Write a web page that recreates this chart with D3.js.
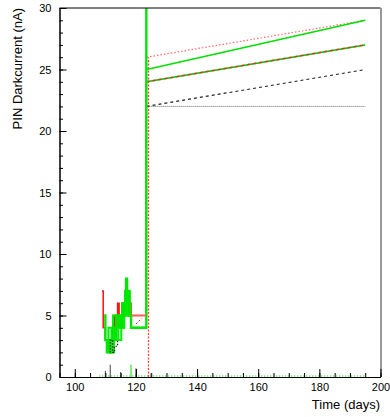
<!DOCTYPE html>
<html>
<head>
<meta charset="utf-8">
<script src="https://cdn.jsdelivr.net/npm/d3@7"></script>
<style>
  body { margin: 0; background: #fff; }
  text { font-family: "Liberation Sans", Arial, sans-serif; }
</style>
</head>
<body>
<svg id="chart" width="390" height="417"></svg>
<script>
// data
const xTicks = [100, 120, 140, 160, 180, 200];
const yTicks = [0, 5, 10, 15, 20, 25, 30];

const lowGreenA = [[109.6,5],[110,3],[110.5,2],[111,3],[111.5,2],[112,3],[112.5,4],[113,3],[113.5,5],[114,4],[114.5,5],[115,4],[115.5,6],[116,5],[116.5,7],[116.8,8],[117.1,6],[117.4,7],[117.8,5],[118.4,4],[123.4,4],[123.4,31]];
const lowGreenB = [[110.2,3],[111,4],[112,3],[112.5,5],[113.5,4],[114,5],[115,4],[116,6],[116.5,5],[117.5,7],[118,5],[118.4,5],[118.4,4],[123.4,4]];
const lowGreenC = [[111,2],[112.8,3],[113.2,4],[114.2,3],[115.2,5],[115.8,4],[116.2,6],[117,5],[117.6,6],[118.2,5]];
const lowRed = [[108.9,7],[109.3,4],[110,3],[111,3],[111.5,2],[112,3],[112.5,5],[113,4],[114,6],[114.5,5],[115.5,6],[116.5,5],[117,7],[117.5,6],[118.4,5],[123.4,5],[123.4,24]];
const lowBlack = [[111.6,2],[111.6,3],[112.4,3],[112.4,2],[113,2.5],[114,3]];
const boxDiag = [[120,4.3],[122,4.8]];

const trendStart = 123.5, trendEnd = 195;
const trends = [
  { name: "red dotted",   from: 26, to: 29, color: "#ff6a6a", dash: "1.5,2", width: 1.2 },
  { name: "green",        from: 25, to: 29, color: "#00e000", dash: null,    width: 1.5 },
  { name: "green/red",    from: 24, to: 27, color: "#00c000", dash: null,    width: 1.5 },
  { name: "green/red b",  from: 24, to: 27, color: "#d23c1e", dash: "3,3",   width: 1.5 },
  { name: "black dashed", from: 22, to: 25, color: "#222",    dash: "3,3",   width: 1.1 },
  { name: "gray dotted",  from: 22, to: 22, color: "#666",    dash: "1,1",   width: 1 }
];

const spikes = [
  { day: 110,   v: 0.5, color: "#444" },
  { day: 111.6, v: 1.0, color: "#444" },
  { day: 115,   v: 0.4, color: "#444" },
  { day: 118.4, v: 1.0, color: "#00e000" },
  { day: 120,   v: 0.7, color: "#444" },
  { day: 124.8, v: 0.3, color: "#999" }
];

const redVertical = { day: 123.9, from: 0, to: 26 };
const greenBase = { from: 108, to: 195, v: 0 };

const svg = d3.select("#chart");
const x = d3.scaleLinear().domain([95, 200]).range([59.5, 380.5]);
const y = d3.scaleLinear().domain([0, 30]).range([377, 8]);

const plot = svg.append("g");
svg.append("clipPath").attr("id", "clip")
  .append("rect").attr("x", x(95)).attr("y", y(30)).attr("width", x(200) - x(95)).attr("height", y(0) - y(30));
const data = plot.append("g").attr("clip-path", "url(#clip)");

const line = d3.line().x(d => x(d[0])).y(d => y(d[1]));
const step = d3.line().x(d => x(d[0])).y(d => y(d[1])).curve(d3.curveStepAfter);

// baseline green dotted
data.append("line")
  .attr("x1", x(greenBase.from)).attr("x2", x(greenBase.to))
  .attr("y1", y(greenBase.v) - 1).attr("y2", y(greenBase.v) - 1)
  .attr("stroke", "#00c000").attr("stroke-dasharray", "1,2");

// red dotted vertical
data.append("line")
  .attr("x1", Math.round(x(redVertical.day)) + 0.5).attr("x2", Math.round(x(redVertical.day)) + 0.5)
  .attr("y1", y(redVertical.from)).attr("y2", y(redVertical.to))
  .attr("stroke", "#ff4040").attr("stroke-width", 1.3).attr("stroke-dasharray", "2,1.5");

// spikes
data.selectAll(".spike").data(spikes).enter().append("line")
  .attr("x1", d => x(d.day)).attr("x2", d => x(d.day))
  .attr("y1", y(0)).attr("y2", d => y(d.v))
  .attr("stroke", d => d.color).attr("stroke-width", 1);

// trend lines
data.selectAll(".trend").data(trends).enter().append("path")
  .attr("d", d => line([[trendStart, d.from], [trendEnd, d.to]]))
  .attr("fill", "none")
  .attr("stroke", d => d.color)
  .attr("stroke-width", d => d.width)
  .attr("stroke-dasharray", d => d.dash);

// low-current region
data.append("path").attr("d", step(lowRed))
  .attr("fill", "none").attr("stroke", "#ff1010").attr("stroke-width", 1.5);
data.append("path").attr("d", step(lowGreenC))
  .attr("fill", "none").attr("stroke", "#00ee00").attr("stroke-width", 2);
data.append("path").attr("d", step(lowGreenB))
  .attr("fill", "none").attr("stroke", "#00ee00").attr("stroke-width", 2);
data.append("path").attr("d", step(lowGreenA))
  .attr("fill", "none").attr("stroke", "#00e600").attr("stroke-width", 2.4);
data.append("path").attr("d", step(lowBlack))
  .attr("fill", "none").attr("stroke", "#222").attr("stroke-width", 1.2).attr("stroke-dasharray", "1.5,1.5");
data.append("path").attr("d", line(boxDiag))
  .attr("fill", "none").attr("stroke", "#ff2020").attr("stroke-width", 1).attr("stroke-dasharray", "2,2");
data.append("line")
  .attr("x1", x(118.4)).attr("x2", x(123.4)).attr("y1", y(5)).attr("y2", y(5))
  .attr("stroke", "#ff6060").attr("stroke-width", 1.5);

// frame
plot.append("line").attr("x1", x(95)).attr("x2", x(200)).attr("y1", y(30)).attr("y2", y(30))
  .attr("stroke", "#000").attr("stroke-width", 1);
plot.append("line").attr("x1", x(200) + 0.5).attr("x2", x(200) + 0.5).attr("y1", y(30)).attr("y2", y(0))
  .attr("stroke", "#777").attr("stroke-width", 1.5);

// axes, ticks inside like ROOT
const xAxis = d3.axisBottom(x).tickValues(xTicks).tickSizeInner(-8).tickSizeOuter(0).tickPadding(6).tickFormat(d3.format("d"));
const xMinor = d3.axisBottom(x).tickValues(d3.range(95, 201, 5)).tickSizeInner(-4).tickSizeOuter(0).tickFormat("");
const yAxis = d3.axisLeft(y).tickValues(yTicks).tickSizeInner(-7).tickSizeOuter(0).tickPadding(8).tickFormat(d3.format("d"));
const yMinor = d3.axisLeft(y).tickValues(d3.range(0, 31, 1)).tickSizeInner(-3.5).tickSizeOuter(0).tickFormat("");

[xMinor, xAxis].forEach(a => {
  svg.append("g").attr("transform", `translate(0,${y(0)})`).call(a)
    .call(g => g.selectAll("text").style("font-size", "11px").attr("fill", "#000"))
    .call(g => g.select(".domain").attr("stroke", "#000"));
});
[yMinor, yAxis].forEach(a => {
  svg.append("g").attr("transform", `translate(${x(95)},0)`).call(a)
    .call(g => g.selectAll("text").style("font-size", "11px").attr("fill", "#000"))
    .call(g => g.select(".domain").attr("stroke", "#000"));
});

// titles
svg.append("text")
  .attr("x", 380).attr("y", 409)
  .attr("text-anchor", "end")
  .style("font-size", "13px")
  .text("Time (days)");

svg.append("text")
  .attr("transform", `translate(22,8) rotate(-90)`)
  .attr("text-anchor", "end")
  .style("font-size", "13px")
  .text("PIN Darkcurrent (nA)");
</script>
</body>
</html>
